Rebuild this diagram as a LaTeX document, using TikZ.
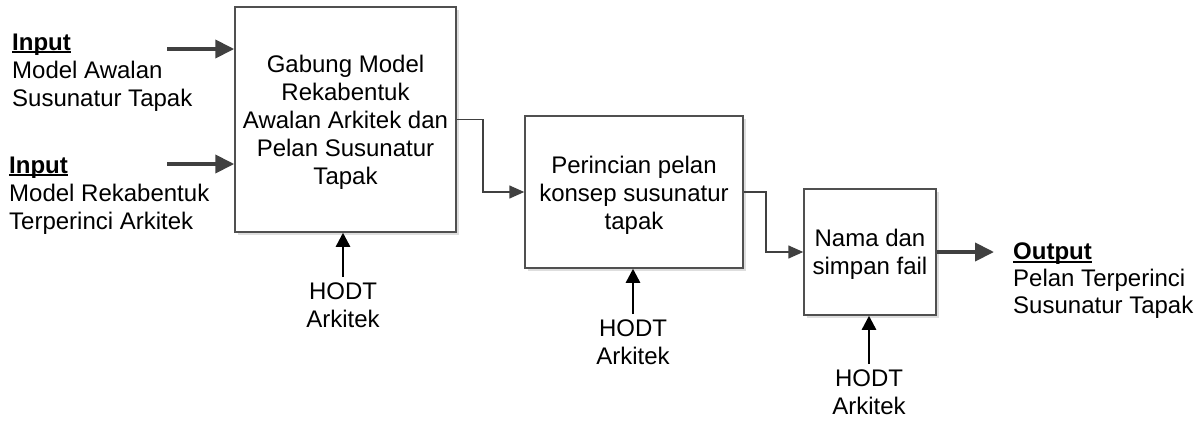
\documentclass[tikz,border=0pt]{standalone}
\usepackage{fontspec}
\setmainfont{Liberation Sans}
\usetikzlibrary{arrows.meta,shadows}

\definecolor{edgegray}{HTML}{505050}
\definecolor{flowgray}{HTML}{404040}

% bold underlined heading with a heavier rule
\newcommand\headul[1]{\leavevmode\setbox0\hbox{\textbf{#1}}\rlap{\rule[-2.6pt]{\wd0}{1.9pt}}\box0}

\tikzset{
  txt/.style={font=\fontsize{24}{28}\selectfont},
  procbox/.style={draw=edgegray, line width=1.5pt, fill=white, inner sep=0pt,
    drop shadow={shadow xshift=3pt, shadow yshift=-3pt, fill=black!13, opacity=1}},
  boxtext/.style={txt, align=center, inner sep=0pt},
  sidetext/.style={txt, align=left, inner sep=0pt, anchor=north west},
  actor/.style={txt, align=center, inner sep=0pt, anchor=north},
  bigflow/.style={draw=flowgray, line width=4pt, -{Triangle[length=19pt,width=18pt]}},
  link/.style={draw=flowgray, line width=1.5pt, -{Triangle[length=15pt,width=13pt]}},
  support/.style={draw=black, line width=2.5pt, -{Triangle[length=14pt,width=14pt]}}
}

\begin{document}
\begin{tikzpicture}[x=1pt,y=-1pt]
  \useasboundingbox (0,0) rectangle (1204,421);

  % process boxes
  \node[procbox, minimum width=221pt, minimum height=225pt] (b1) at (345.5,119.5) {};
  \node[procbox, minimum width=218pt, minimum height=152pt] (b2) at (634,192) {};
  \node[procbox, minimum width=132pt, minimum height=126pt] (b3) at (870,252) {};
  \node[boxtext] (t1) at ([yshift=-3pt]b1.center)
    {Gabung Model\\Rekabentuk\\Awalan Arkitek dan\\Pelan Susunatur\\Tapak};
  \node[boxtext] (t2) at ([yshift=-3pt]b2.center)
    {Perincian pelan\\konsep susunatur\\tapak};
  \node[boxtext] (t3) at ([yshift=-2pt]b3.center)
    {Nama dan\\simpan fail};

  % inputs
  \node[sidetext] (in1) at (12,34) {\headul{Input}\\Model Awalan\\Susunatur Tapak};
  \node[sidetext] (in2) at (9,157) {\headul{Input}\\Model Rekabentuk\\Terperinci Arkitek};
  \coordinate (a1) at (167,49);
  \coordinate (a2) at (167,164);
  \draw[bigflow] (a1) -- (a1 -| b1.west);
  \draw[bigflow] (a2) -- (a2 -| b1.west);

  % output
  \node[sidetext, font=\fontsize{24}{27}\selectfont] (out) at (1013,243)
    {\headul{Output}\\Pelan Terperinci\\Susunatur Tapak};
  \coordinate (o1) at (994,252);
  \draw[bigflow] (b3.east) -- (o1);

  % links between stages
  \coordinate (k1) at (483,0);
  \coordinate (k2) at (766,0);
  \draw[link] (b1.east) -- (b1.east -| k1) |- (b2.west);
  \draw[link] (b2.east) -- (b2.east -| k2) |- (b3.west);

  % supporting actors
  \node[actor] (h1) at (343,283) {HODT\\Arkitek};
  \node[actor] (h2) at (633,320) {HODT\\Arkitek};
  \node[actor] (h3) at (869,370) {HODT\\Arkitek};
  \draw[support] ([yshift=6pt]h1.north) -- (h1.north |- b1.south);
  \draw[support] ([yshift=6pt]h2.north) -- (h2.north |- b2.south);
  \draw[support] ([yshift=6pt]h3.north) -- (h3.north |- b3.south);
\end{tikzpicture}
\end{document}
